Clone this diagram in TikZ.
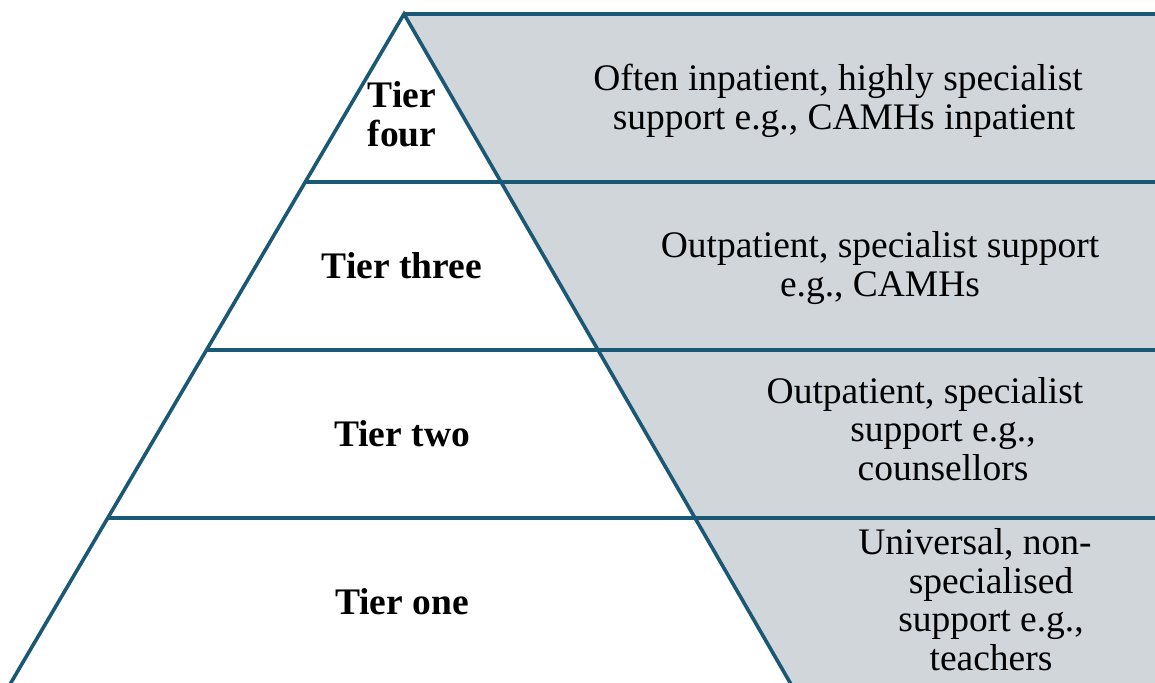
\documentclass[tikz,border=0pt]{standalone}
\usepackage{fontspec}
\setmainfont{Liberation Serif}
\usetikzlibrary{calc}

\definecolor{tierblue}{RGB}{26,88,118}
\definecolor{tiergrey}{RGB}{209,214,219}

\begin{document}
\begin{tikzpicture}[x=1pt,y=-1pt,
    tierline/.style={draw=tierblue,line width=3.6pt},
    tiername/.style={font=\fontsize{37.5}{38.5}\selectfont\bfseries,align=center,inner sep=0pt},
    tiertext/.style={font=\fontsize{37.5}{38.5}\selectfont,align=center,inner sep=0pt}]
        \useasboundingbox (0,0) rectangle (1155,682);
        \clip (0,0) rectangle (1155,682);
        \coordinate (apex) at (404,14);
        \coordinate (bl) at (9,686);
        \coordinate (br) at (792,686);
        \coordinate (edge) at (1165,0);
        % grey band to the right of the pyramid
        \fill[tiergrey] (apex)--(apex -| edge)--(br -| edge)--(br)--cycle;
        % tier boundaries
        \draw[tierline] (apex)--(apex -| edge);
        \foreach \t/\n in {0.25/a,0.5/b,0.75/c}{
            \coordinate (l\n) at ($(apex)!\t!(bl)$);
            \draw[tierline] (l\n)--(l\n -| edge);
        }
        \draw[tierline] (bl)--(apex)--(br);
        % tier names
        \node[tiername] (four) at (402,114) {Tier\\four};
        \node[tiername,anchor=base] (three) at (402,278) {Tier three};
        \node[tiername,anchor=base] (two) at (402,446) {Tier two};
        \node[tiername,anchor=base] (one) at (402,614) {Tier one};
        % kind of support
        \node[tiertext] (fourtext) at (844,101) {Often inpatient, highly specialist\hspace*{12pt}\\support e.g., CAMHs inpatient};
        \node[tiertext] (threetext) at (880,268) {Outpatient, specialist support\\e.g., CAMHs};
        \node[tiertext] (twotext) at (943,428.7) {Outpatient, specialist\hspace*{36pt}\\support e.g.,\\counsellors};
        \node[tiertext] (onetext) at (991,599.7) {Universal, non-\hspace*{32pt}\\specialised\\support e.g.,\\teachers};
    \end{tikzpicture}
\end{document}
